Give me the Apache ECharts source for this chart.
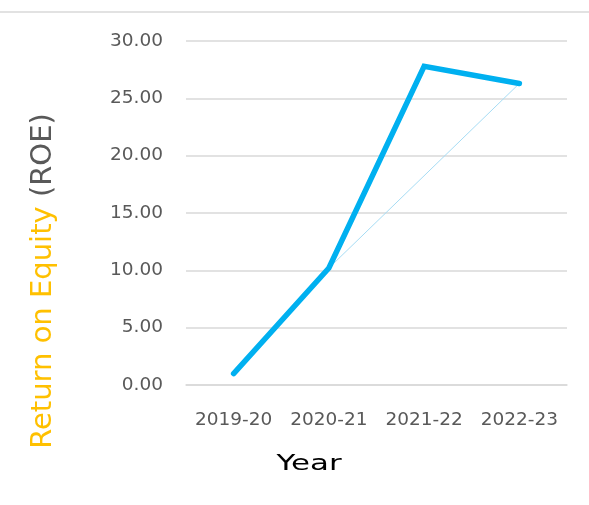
<!DOCTYPE html>
<html>
<head>
<meta charset="utf-8">
<script src="https://cdn.jsdelivr.net/npm/echarts@6/dist/echarts.min.js"></script>
<style>
  html, body { margin: 0; padding: 0; background: #fff; }
  #chart { width: 589px; height: 505px; }
</style>
</head>
<body>
<div id="chart"></div>
<script>
// Financial years on the category axis
const years = ['2019-20', '2020-21', '2021-22', '2022-23'];
// Return on Equity per year (%)
const roe = [1.0, 10.2, 27.8, 26.3];
// Thin connector between 2020-21 and 2022-23
const connector = [null, 10.2, null, 26.3];
// Value axis range and step
const yMin = 0;
const yMax = 30;
const yStep = 5;

const chart = echarts.init(document.getElementById('chart'));
const font = '"DejaVu Sans", Verdana, sans-serif';

chart.setOption({
  animation: false,
  grid: { left: 186, right: 22, top: 41, bottom: 120, containLabel: false },
  xAxis: {
    type: 'category',
    data: years,
    boundaryGap: true,
    axisLine: { show: true, lineStyle: { color: '#d9d9d9', width: 1.5 } },
    axisTick: { show: false },
    axisLabel: {
      color: '#595959', fontSize: 18.5, fontFamily: font, margin: 26,
      interval: 0, hideOverlap: false
    }
  },
  yAxis: {
    type: 'value',
    min: yMin,
    max: yMax,
    interval: yStep,
    axisLine: { show: false },
    axisTick: { show: false },
    splitLine: { lineStyle: { color: '#d9d9d9', width: 1.5 } },
    axisLabel: {
      color: '#595959', fontSize: 18.5, fontFamily: font, margin: 23,
      formatter: v => v.toFixed(2)
    }
  },
  graphic: [
    {
      type: 'line',
      shape: { x1: 0, y1: 12, x2: 589, y2: 12 },
      style: { stroke: '#d9d9d9', lineWidth: 1.5 }
    },
    {
      // vertical axis title
      type: 'text',
      x: 43,
      y: 281,
      rotation: Math.PI / 2,
      style: {
        text: '{a|Return on Equity }{b|(ROE)}',
        align: 'center',
        verticalAlign: 'middle',
        rich: {
          a: { fill: '#FFC000', fontSize: 29, fontFamily: font },
          b: { fill: '#595959', fontSize: 29, fontFamily: font }
        }
      }
    },
    {
      // horizontal axis title, set wide
      type: 'text',
      x: 309,
      y: 464,
      scaleX: 1.4,
      style: {
        text: 'Year',
        fill: '#000000',
        fontSize: 22,
        fontFamily: font,
        align: 'center',
        verticalAlign: 'middle'
      }
    }
  ],
  series: [
    {
      type: 'line',
      data: connector,
      connectNulls: true,
      symbol: 'none',
      lineStyle: { color: '#a6dcf4', width: 1 },
      z: 1
    },
    {
      type: 'line',
      data: roe,
      symbol: 'none',
      lineStyle: { color: '#00B0F0', width: 5.5, cap: 'round', join: 'miter' },
      z: 2
    }
  ]
});
</script>
</body>
</html>
